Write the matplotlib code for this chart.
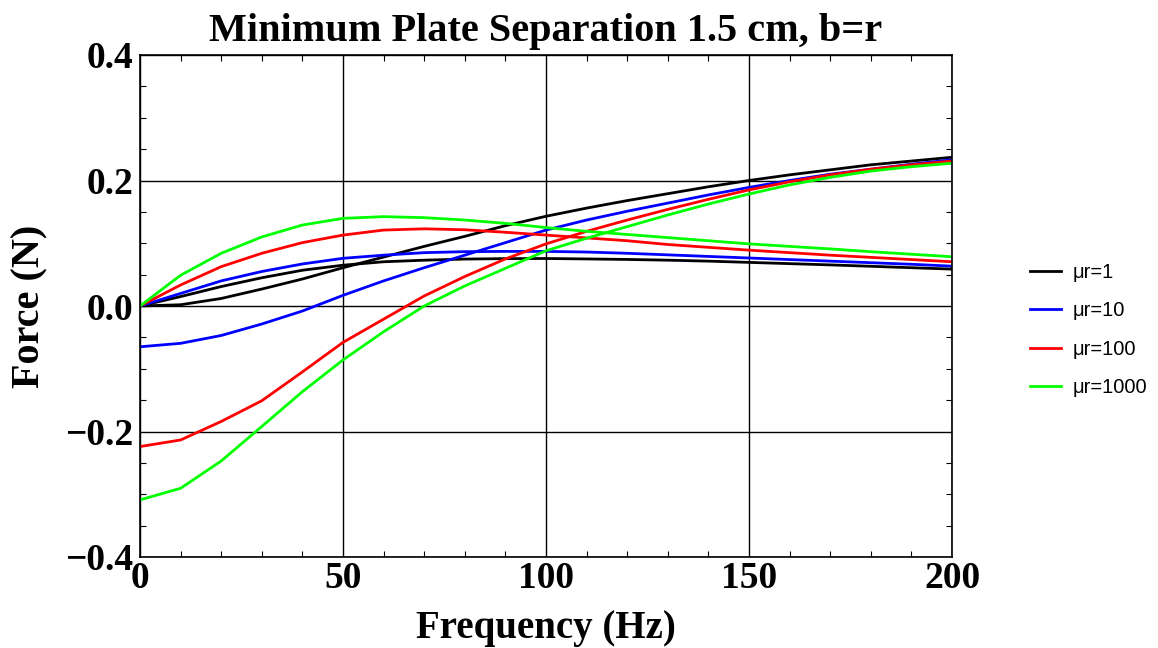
import numpy as np
import matplotlib
matplotlib.use('Agg')
import matplotlib.pyplot as plt
from matplotlib.ticker import MultipleLocator

# frequency samples (Hz)
freq = [0, 10, 20, 30, 40, 50, 60, 70, 80, 90, 100,
        110, 120, 130, 140, 150, 160, 170, 180, 190, 200]

# force (N), two curves per permeability
black_bump = [0, 0.015, 0.031, 0.045, 0.057, 0.065, 0.0705, 0.073, 0.0748, 0.0755, 0.0757,
              0.075, 0.0742, 0.073, 0.0715, 0.0695, 0.0675, 0.0655, 0.0633, 0.061, 0.0588]
black_mono = [0, 0.002, 0.012, 0.027, 0.043, 0.061, 0.078, 0.095, 0.111, 0.128, 0.143,
              0.156, 0.168, 0.179, 0.190, 0.200, 0.209, 0.217, 0.225, 0.231, 0.237]
blue_bump = [0, 0.020, 0.040, 0.055, 0.067, 0.076, 0.081, 0.085, 0.0866, 0.087, 0.087,
             0.086, 0.084, 0.0815, 0.079, 0.0765, 0.074, 0.0715, 0.069, 0.0665, 0.0635]
blue_mono = [-0.065, -0.0595, -0.047, -0.0287, -0.008, 0.017, 0.040, 0.061, 0.081, 0.101, 0.121,
             0.137, 0.151, 0.164, 0.177, 0.189, 0.200, 0.210, 0.218, 0.226, 0.233]
red_bump = [0, 0.0335, 0.0627, 0.084, 0.101, 0.113, 0.121, 0.123, 0.1215, 0.1175, 0.113,
            0.1085, 0.104, 0.098, 0.0935, 0.089, 0.085, 0.081, 0.0775, 0.074, 0.0705]
red_mono = [-0.224, -0.2135, -0.184, -0.151, -0.105, -0.058, -0.021, 0.016, 0.047, 0.075, 0.099,
            0.119, 0.137, 0.154, 0.170, 0.185, 0.198, 0.209, 0.218, 0.225, 0.231]
green_bump = [0, 0.049, 0.084, 0.110, 0.129, 0.1397, 0.1424, 0.1408, 0.137, 0.1317, 0.125,
              0.119, 0.114, 0.109, 0.104, 0.099, 0.095, 0.091, 0.0865, 0.0825, 0.0785]
green_mono = [-0.309, -0.2905, -0.247, -0.192, -0.1365, -0.086, -0.041, 0.0, 0.032, 0.060, 0.088,
              0.108, 0.1265, 0.145, 0.1625, 0.1785, 0.193, 0.205, 0.215, 0.222, 0.2275]

labels = ['μr=1', 'μr=10', 'μr=100', 'μr=1000']
colors = ['black', 'blue', 'red', '#00ff00']
bumps = [black_bump, blue_bump, red_bump, green_bump]
monos = [black_mono, blue_mono, red_mono, green_mono]

serif = ['Liberation Serif', 'DejaVu Serif']

fig = plt.figure(figsize=(11.58, 6.48), dpi=100)
ax = fig.add_axes([140/1158, 1 - 557/648, 812/1158, 502/648])

for lab, c, b, m in zip(labels, colors, bumps, monos):
    ax.plot(freq, m, color=c, lw=2)
    ax.plot(freq, b, color=c, lw=2, label=lab)

ax.set_xlim(0, 200)
ax.set_ylim(-0.4, 0.4)
ax.xaxis.set_minor_locator(MultipleLocator(10))
ax.yaxis.set_minor_locator(MultipleLocator(0.05))
ax.grid(True, which='major', color='black', lw=1)
ax.tick_params(which='both', direction='in', top=True, right=True)
ax.tick_params(which='major', length=0)
ax.tick_params(which='minor', length=4, width=0.8)
for s in ax.spines.values():
    s.set_linewidth(1.2)

ax.set_xticks([0, 50, 100, 150, 200])
ax.set_xticklabels(['0', '50', '100', '150', '200'], family=serif, weight='bold', fontsize=27)
ax.set_yticks([-0.4, -0.2, 0.0, 0.2, 0.4])
ax.set_yticklabels(['\u22120.4', '\u22120.2', '0.0', '0.2', '0.4'], family=serif, weight='bold', fontsize=27)
ax.tick_params(axis='x', pad=3)
ax.tick_params(axis='y', pad=5)

ax.set_title('Minimum Plate Separation 1.5 cm, b=r', family=serif, weight='bold', fontsize=29, pad=10)
ax.set_xlabel('Frequency (Hz)', family=serif, weight='bold', fontsize=28, labelpad=10)
ax.set_ylabel('Force (N)', family=serif, weight='bold', fontsize=29, labelpad=12)

fig.legend(loc='center left', bbox_to_anchor=(1012/1158, 1 - 330/648), frameon=False,
           prop={'family': 'Liberation Sans', 'size': 14.5}, handlelength=1.55,
           handletextpad=0.55, labelspacing=0.95)

fig.savefig('out.png', dpi=100)
